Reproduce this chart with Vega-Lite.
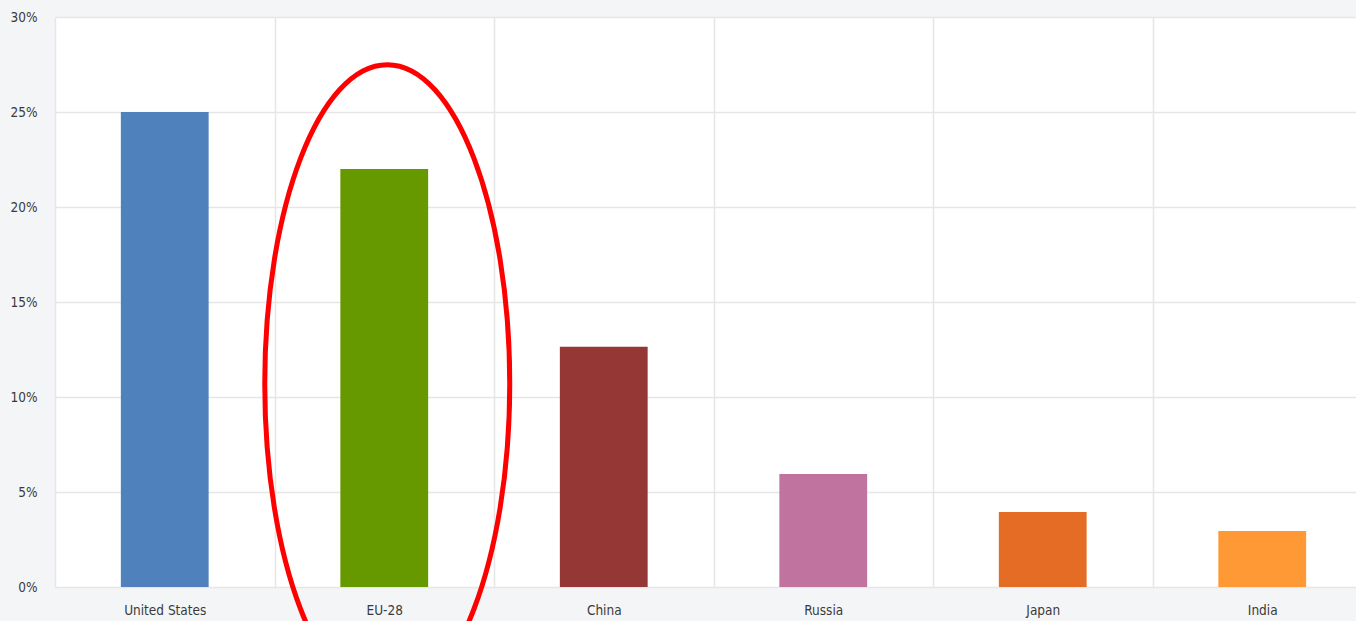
{
  "$schema": "https://vega.github.io/schema/vega-lite/v6.json",
  "width": 1301,
  "height": 570,
  "autosize": {"type": "none"},
  "padding": {"left": 55, "top": 17, "right": 0, "bottom": 34},
  "background": "#f4f5f7",
  "config": {
    "view": {"fill": "#ffffff", "stroke": null},
    "font": "DejaVu Sans Condensed, Liberation Sans, sans-serif",
    "axis": {
      "labelFont": "DejaVu Sans Condensed, Liberation Sans, sans-serif",
      "labelFontSize": 13.5,
      "labelColor": "#3a3a3a",
      "gridColor": "#e6e6e6",
      "gridWidth": 1.5,
      "domain": false,
      "ticks": false,
      "title": null
    }
  },
  "data": {
    "values": [
      {"country": "United States", "share": 25},
      {"country": "EU-28", "share": 22},
      {"country": "China", "share": 12.65},
      {"country": "Russia", "share": 5.95},
      {"country": "Japan", "share": 3.95},
      {"country": "India", "share": 2.95}
    ]
  },
  "layer": [
    {
      "mark": {"type": "bar", "width": {"band": 0.4}},
      "encoding": {
        "x": {
          "field": "country",
          "type": "nominal",
          "sort": null,
          "scale": {"range": [0, 1317], "paddingInner": 0, "paddingOuter": 0},
          "axis": {"grid": true, "tickBand": "extent", "labelAngle": 0, "labelPadding": 16, "labelBaseline": "top"}
        },
        "y": {
          "field": "share",
          "type": "quantitative",
          "scale": {"domain": [0, 30], "nice": false},
          "axis": {"values": [0, 5, 10, 15, 20, 25, 30], "labelExpr": "datum.value + '%'", "labelPadding": 18, "grid": true}
        },
        "color": {
          "field": "country",
          "type": "nominal",
          "scale": {
            "domain": ["United States", "EU-28", "China", "Russia", "Japan", "India"],
            "range": ["#4f81bd", "#669900", "#953735", "#c0739e", "#e46c24", "#fe9935"]
          },
          "legend": null
        }
      }
    },
    {
      "transform": [{"filter": "datum.country === 'EU-28'"}],
      "mark": {
        "type": "point",
        "shape": "M0,-1 A0.384,1 0 1,1 0,1 A0.384,1 0 1,1 0,-1 Z",
        "size": 407044,
        "filled": false,
        "stroke": "#ff0000",
        "strokeWidth": 5,
        "opacity": 1,
        "strokeOpacity": 1,
        "xOffset": 3,
        "clip": false
      },
      "encoding": {
        "x": {"field": "country", "type": "nominal", "sort": null},
        "y": {"datum": 10.7, "type": "quantitative"}
      }
    }
  ]
}
